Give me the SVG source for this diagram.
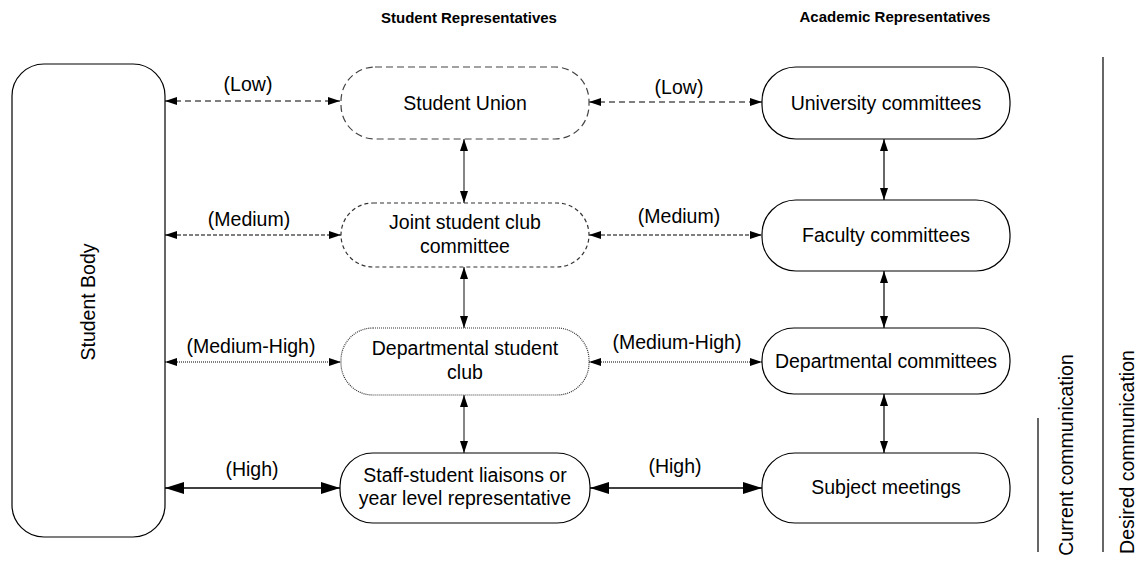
<svg xmlns="http://www.w3.org/2000/svg" width="1140" height="561" viewBox="0 0 1140 561">
<style>
text{font-family:"Liberation Sans",Arial,sans-serif;fill:#000}
.t{font-size:19.5px;text-anchor:middle}
.h{font-size:15px;font-weight:bold;text-anchor:middle}
.n{fill:#fff;stroke:#000;stroke-width:1.2}
.dash1{stroke:#444;stroke-dasharray:7,4}
.dash2{stroke:#333;stroke-dasharray:4,3}
.dot{stroke:#333;stroke-dasharray:1,1}
.c{fill:none;stroke:#000;stroke-width:1.2}
.cl{stroke-dasharray:6,4;marker-start:url(#a);marker-end:url(#a)}
.cm{stroke-dasharray:4,2;marker-start:url(#a);marker-end:url(#a)}
.cd{stroke-dasharray:1,1;marker-start:url(#a);marker-end:url(#a)}
.ch{stroke-width:1.4;marker-start:url(#b);marker-end:url(#b)}
.cv{marker-start:url(#a);marker-end:url(#a)}
.cg{stroke:#333}
.sep{stroke:#000;stroke-width:1.2}
</style>
<defs>
<marker id="a" markerUnits="userSpaceOnUse" markerWidth="12" markerHeight="8" viewBox="0 0 12 8" refX="12" refY="4" orient="auto-start-reverse"><path d="M0,0 L12,4 L0,8 z" fill="#000"/></marker>
<marker id="b" markerUnits="userSpaceOnUse" markerWidth="19" markerHeight="12" viewBox="0 0 19 12" refX="19" refY="6" orient="auto-start-reverse"><path d="M0,0 L19,6 L0,12 z" fill="#000"/></marker>
</defs>

<text class="h" x="469" y="23">Student Representatives</text>
<text class="h" x="895" y="22">Academic Representatives</text>

<g id="connectors">
<line class="c cl" x1="165" y1="101" x2="340" y2="101"/>
<line class="c cl" x1="589" y1="102" x2="762" y2="102"/>
<line class="c cm" x1="165" y1="235" x2="341" y2="235"/>
<line class="c cm" x1="589" y1="235" x2="762" y2="235"/>
<line class="c cd" x1="165" y1="362" x2="341" y2="362"/>
<line class="c cd" x1="589" y1="362" x2="762" y2="362"/>
<line class="c ch" x1="165" y1="488" x2="340" y2="488"/>
<line class="c ch" x1="590" y1="488" x2="762" y2="488"/>
<line class="c cv cg" x1="464" y1="139" x2="464" y2="203"/>
<line class="c cv cg" x1="464" y1="267" x2="464" y2="328"/>
<line class="c cv cg" x1="464" y1="395" x2="464" y2="453"/>
<line class="c cv" x1="884" y1="139" x2="884" y2="200"/>
<line class="c cv" x1="884" y1="271" x2="884" y2="328"/>
<line class="c cv" x1="884" y1="394" x2="884" y2="453"/>
<text class="t" x="248" y="91">(Low)</text>
<text class="t" x="679" y="94">(Low)</text>
<text class="t" x="249" y="226">(Medium)</text>
<text class="t" x="679" y="223">(Medium)</text>
<text class="t" x="251" y="353">(Medium-High)</text>
<text class="t" x="677" y="349">(Medium-High)</text>
<text class="t" x="252" y="476">(High)</text>
<text class="t" x="675" y="473">(High)</text>
</g>

<g id="student-body">
<rect class="n" x="12" y="64" width="153" height="473" rx="32" ry="32"/>
<text class="t" transform="translate(95,302) rotate(-90)">Student Body</text>
</g>

<g id="student-union">
<rect class="n dash1" x="341" y="67" width="248" height="72" rx="34" ry="34"/>
<text class="t" x="465" y="110">Student Union</text>
</g>

<g id="joint-committee">
<rect class="n dash2" x="341" y="203" width="248" height="64" rx="32" ry="32"/>
<text class="t" x="465" y="229">Joint student club</text>
<text class="t" x="465" y="253">committee</text>
</g>

<g id="dept-club">
<rect class="n dot" x="341" y="328" width="248" height="67" rx="32" ry="32"/>
<text class="t" x="465" y="355">Departmental student</text>
<text class="t" x="465" y="379">club</text>
</g>

<g id="staff-student">
<rect class="n" x="340" y="453" width="250" height="70" rx="33" ry="33"/>
<text class="t" x="465" y="482">Staff-student liaisons or</text>
<text class="t" x="465" y="505">year level representative</text>
</g>

<g id="university-committees">
<rect class="n" x="762" y="67" width="248" height="72" rx="34" ry="34"/>
<text class="t" x="886" y="110">University committees</text>
</g>

<g id="faculty-committees">
<rect class="n" x="762" y="200" width="248" height="71" rx="34" ry="34"/>
<text class="t" x="886" y="242">Faculty committees</text>
</g>

<g id="dept-committees">
<rect class="n" x="762" y="328" width="248" height="66" rx="32" ry="32"/>
<text class="t" x="886" y="368">Departmental committees</text>
</g>

<g id="subject-meetings">
<rect class="n" x="762" y="453" width="248" height="70" rx="33" ry="33"/>
<text class="t" x="886" y="494">Subject meetings</text>
</g>

<g id="legend">
<line class="sep" x1="1038" y1="418" x2="1038" y2="552"/>
<line class="sep" x1="1103" y1="57" x2="1103" y2="552"/>
<text class="t" transform="translate(1073,455) rotate(-90)">Current communication</text>
<text class="t" transform="translate(1134,452) rotate(-90)">Desired communication</text>
</g>
</svg>
